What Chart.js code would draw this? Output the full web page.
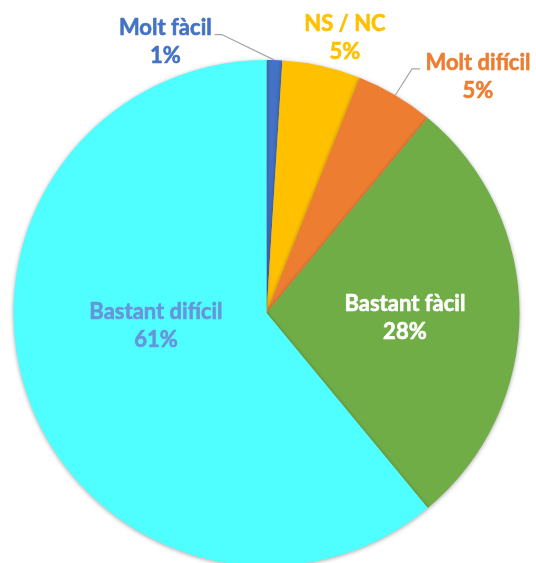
<!DOCTYPE html>
<html>
<head>
<meta charset="utf-8">
<script src="https://cdn.jsdelivr.net/npm/chart.js@4"></script>
<style>
  html, body { margin: 0; padding: 0; background: #fff; overflow: hidden; }
  #wrap { width: 536px; height: 570px; position: relative; }
</style>
</head>
<body>
<div id="wrap"><canvas id="pie" width="536" height="570"></canvas></div>
<script>
// answers to the question, in drawing order (clockwise from the top)
const categories = ['Molt fàcil', 'NS / NC', 'Molt difícil', 'Bastant fàcil', 'Bastant difícil'];
const percentages = [1, 5, 5, 28, 61];
const sliceColors = ['#4472C4', '#FFC000', '#ED7D31', '#70AD47', '#4FFFFF'];
const textColors = ['#4472C4', '#FFC000', '#ED7D31', '#FFFFFF', '#6794DA'];

// where each label sits, as a fraction of the radius from the pie centre;
// outside labels also get a leader line with an elbow point
const labelPlaces = [
  { fx: -0.40, fy: -1.07, elbow: [-0.175, -1.10], lineFrom: [-0.205, -1.10] },
  { fx: 0.31, fy: -1.087 },
  { fx: 0.836, fy: -0.933, elbow: [0.575, -0.965], lineFrom: [0.607, -0.965] },
  { fx: 0.547, fy: 0.02 },
  { fx: -0.437, fy: 0.051 }
];

const pieLabels = {
  id: 'pieLabels',
  afterDatasetsDraw(chart) {
    const ctx = chart.ctx;
    const meta = chart.getDatasetMeta(0);
    ctx.save();
    ctx.font = '700 22px Lato, "Open Sans", sans-serif';
    ctx.textAlign = 'center';
    ctx.textBaseline = 'middle';
    ctx.lineJoin = 'round';
    meta.data.forEach((arc, i) => {
      const { x, y, outerRadius: r, startAngle, endAngle } = arc.getProps(['x', 'y', 'outerRadius', 'startAngle', 'endAngle'], true);
      const p = labelPlaces[i];
      const lx = x + p.fx * r;
      const ly = y + p.fy * r;
      if (p.elbow) {
        const mid = (startAngle + endAngle) / 2;
        ctx.strokeStyle = '#A6A6A6';
        ctx.lineWidth = 1.2;
        ctx.beginPath();
        ctx.moveTo(x + p.lineFrom[0] * r, y + p.lineFrom[1] * r);
        ctx.lineTo(x + p.elbow[0] * r, y + p.elbow[1] * r);
        ctx.lineTo(x + Math.cos(mid) * r, y + Math.sin(mid) * r);
        ctx.stroke();
      }
      // thin outline in the same colour makes the bold text a bit heavier
      ctx.fillStyle = textColors[i];
      ctx.strokeStyle = textColors[i];
      ctx.lineWidth = 0.6;
      [categories[i], percentages[i] + '%'].forEach((txt, k) => {
        const ty = ly + (k === 0 ? -14 : 14);
        ctx.fillText(txt, lx, ty);
        ctx.strokeText(txt, lx, ty);
      });
    });
    ctx.restore();
  }
};

// soft grey edge around the whole pie
const pieShadow = {
  id: 'pieShadow',
  beforeDatasetsDraw(chart) {
    const ctx = chart.ctx;
    ctx.save();
    ctx.shadowColor = 'rgba(0,0,0,0.35)';
    ctx.shadowBlur = 4;
    ctx.shadowOffsetX = 0;
    ctx.shadowOffsetY = 1;
  },
  afterDatasetsDraw(chart) {
    chart.ctx.restore();
  }
};

new Chart(document.getElementById('pie').getContext('2d'), {
  type: 'pie',
  data: {
    labels: categories,
    datasets: [{
      data: percentages,
      backgroundColor: sliceColors,
      borderWidth: 0
    }]
  },
  options: {
    responsive: false,
    animation: false,
    layout: { padding: { left: 13.5, right: 16.5, top: 60, bottom: 4 } },
    plugins: {
      legend: { display: false },
      tooltip: { enabled: false }
    }
  },
  plugins: [pieShadow, pieLabels]
});
</script>
</body>
</html>
